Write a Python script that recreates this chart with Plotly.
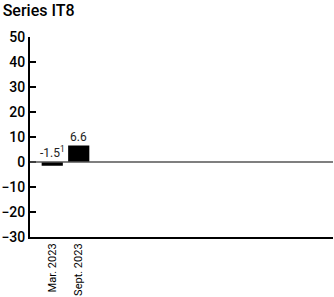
import plotly.graph_objects as go

categories = ["Mar. 2023", "Sept. 2023"]
values = [-1.5, 6.6]
labels = ["-1.5<sup>1</sup>", "6.6"]
y_ticks = [-30, -20, -10, 0, 10, 20, 30, 40, 50]

FONT = "Roboto"
xs = list(range(len(categories)))

fig = go.Figure()
fig.add_trace(go.Bar(x=xs, y=values, width=0.8, marker=dict(color="black", line=dict(width=0)),
                     hoverinfo="skip"))

for x, v, t in zip(xs, values, labels):
    fig.add_annotation(x=x, y=max(v, 0), text=t, showarrow=False, yanchor="bottom", yshift=0,
                       font=dict(family=FONT, size=12, color="#222"))

fig.add_shape(type="line", xref="paper", yref="y", x0=0, x1=1, y0=0, y1=0,
              line=dict(color="#555", width=1.5))

fig.update_layout(
    width=334, height=297,
    margin=dict(l=30, r=1, t=37, b=60, autoexpand=False),
    plot_bgcolor="white", paper_bgcolor="white",
    showlegend=False,
    title=dict(text="Series IT8", x=0.008, xanchor="left", y=0.985, yanchor="top",
               font=dict(family=FONT, size=16, color="black", weight=500), automargin=False),
    font=dict(family=FONT, size=13, color="black"),
    xaxis=dict(range=[-0.84, 10.6], tickmode="array", tickvals=xs, ticktext=categories,
               tickangle=-90, showgrid=False, zeroline=False, showline=True, automargin=False,
               linecolor="black", linewidth=2, ticks="", tickfont=dict(size=11)),
    yaxis=dict(range=[-30, 50], tickmode="array", tickvals=y_ticks, automargin=False,
               showgrid=False, zeroline=False, showline=True, linecolor="black", linewidth=2,
               ticks="inside", ticklen=6, tickwidth=1.5, tickcolor="black",
               tickfont=dict(size=14, weight=500)),
)

fig.write_html("out.html", config={"displayModeBar": False},
               post_script="document.body.style.margin='0px';")
